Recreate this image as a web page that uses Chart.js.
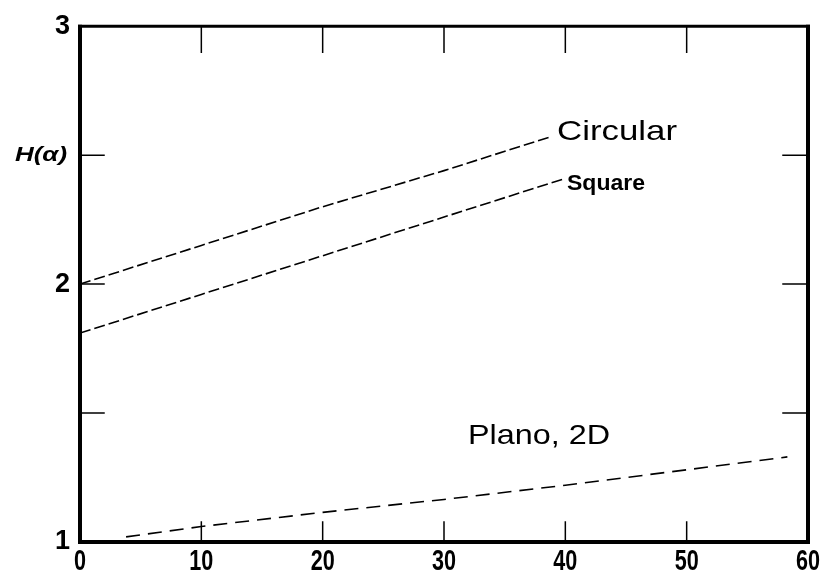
<!DOCTYPE html>
<html lang="en">
<head>
   <meta charset="UTF-8">
   <title>H(alpha) curves</title>
   <script src="https://cdn.jsdelivr.net/npm/chart.js"></script>
   <style>
       body { margin: 0; padding: 0; background: #fff; }
       #wrap { width: 825px; height: 578px; }
   </style>
</head>
<body>
   <div id="wrap"><canvas id="myChart" width="825" height="578"></canvas></div>
   <script>
       // values
       const circularX = [0, 10, 20, 30, 38.7];
       const circularY = [2.0, 2.15, 2.30, 2.44, 2.57];
       const squareX = [0, 10, 20, 30, 40];
       const squareY = [1.81, 1.96, 2.11, 2.26, 2.41];
       const planoX = [3.8, 10, 20, 30, 40, 50, 58.3];
       const planoY = [1.02, 1.06, 1.115, 1.165, 1.22, 1.28, 1.33];
       const xTicks = [0, 10, 20, 30, 40, 50, 60];
       const yTicks = [1, 1.5, 2, 2.5, 3];
       const yLabels = [1, 2, 3];

       const toPts = (xs, ys) => xs.map((x, i) => ({ x: x, y: ys[i] }));

       // frame, inward ticks and text labels
       const framePlugin = {
           id: 'frame',
           afterDraw(chart) {
               const ctx = chart.ctx;
               const a = chart.chartArea;
               const xs = chart.scales.x, ys = chart.scales.y;
               ctx.save();
               ctx.strokeStyle = '#000';
               ctx.lineCap = 'square';
               ctx.lineWidth = 1.5;
               ctx.beginPath();
               xTicks.forEach(v => {
                   const px = xs.getPixelForValue(v);
                   if (v > 0 && v < 60) {
                       ctx.moveTo(px, a.top); ctx.lineTo(px, a.top + 26);
                       ctx.moveTo(px, a.bottom); ctx.lineTo(px, a.bottom - 20);
                   }
               });
               yTicks.forEach(v => {
                   const py = ys.getPixelForValue(v);
                   if (v > 1 && v < 3) {
                       ctx.moveTo(a.left, py); ctx.lineTo(a.left + 24, py);
                       ctx.moveTo(a.right, py); ctx.lineTo(a.right - 25, py);
                   }
               });
               ctx.stroke();
               // box, heavier on left and bottom
               ctx.lineCap = 'butt';
               ctx.lineWidth = 4;
               ctx.beginPath();
               ctx.moveTo(a.left, a.top - 1.5); ctx.lineTo(a.left, a.bottom + 2);
               ctx.moveTo(a.left - 2, a.bottom); ctx.lineTo(a.right + 2, a.bottom);
               ctx.moveTo(a.right, a.bottom + 2); ctx.lineTo(a.right, a.top - 1.5);
               ctx.stroke();
               ctx.lineWidth = 3;
               ctx.beginPath();
               ctx.moveTo(a.left - 2, a.top); ctx.lineTo(a.right + 2, a.top);
               ctx.stroke();

               const label = (text, x, y, font, sx, align) => {
                   ctx.font = font;
                   ctx.fillStyle = '#000';
                   ctx.textBaseline = 'middle';
                   ctx.textAlign = align || 'left';
                   ctx.save();
                   ctx.translate(x, y);
                   ctx.scale(sx, 1);
                   ctx.fillText(text, 0, 0);
                   ctx.restore();
               };
               const fit = (text, font, width) => { ctx.font = font; return width / ctx.measureText(text).width; };
               const reg = '28px "Liberation Sans", Arial, sans-serif';
               const sq = 'bold 22px "Liberation Sans", Arial, sans-serif';
               const hf = 'italic bold 21px "Liberation Sans", Arial, sans-serif';
               label('Circular', 557, ys.getPixelForValue(2.59), reg, fit('Circular', reg, 120));
               label('Square', 567, ys.getPixelForValue(2.39), sq, fit('Square', sq, 78));
               label('Plano, 2D', 468, ys.getPixelForValue(1.41), reg, fit('Plano, 2D', reg, 142));
               label('H(\u03b1)', 15, ys.getPixelForValue(2.5), hf, fit('H(\u03b1)', hf, 52));

               // narrow, tall x tick labels
               const tf = 'bold 30px "Liberation Sans", Arial, sans-serif';
               xTicks.forEach(v => {
                   label(String(v), xs.getPixelForValue(v), a.bottom + 20, tf, 0.72, 'center');
               });
               ctx.restore();
           }
       };

       const dashedSet = (pts, dash) => ({
           data: pts,
           showLine: true,
           borderColor: '#000',
           borderWidth: 1.6,
           borderDash: dash,
           pointRadius: 0,
           fill: false,
           tension: 0
       });

       new Chart(document.getElementById('myChart').getContext('2d'), {
           type: 'scatter',
           data: {
               datasets: [
                   dashedSet(toPts(circularX, circularY), [11, 4]),
                   dashedSet(toPts(squareX, squareY), [11, 4]),
                   dashedSet(toPts(planoX, planoY), [14, 8])
               ]
           },
           options: {
               responsive: false,
               animation: false,
               layout: { padding: { top: 22, right: 17, left: 0, bottom: 0 } },
               plugins: { legend: { display: false }, tooltip: { enabled: false } },
               scales: {
                   x: {
                       type: 'linear',
                       min: 0, max: 60,
                       afterBuildTicks: s => { s.ticks = xTicks.map(v => ({ value: v })); },
                       afterFit: s => { s.height = 36; },
                       border: { display: false },
                       grid: { display: false, drawTicks: false },
                       ticks: { display: false }
                   },
                   y: {
                       type: 'linear',
                       min: 1, max: 3,
                       afterBuildTicks: s => { s.ticks = yTicks.map(v => ({ value: v })); },
                       afterFit: s => { s.width = 80; },
                       border: { display: false },
                       grid: { display: false, drawTicks: false },
                       ticks: {
                           color: '#000',
                           padding: 10,
                           callback: v => yLabels.includes(v) ? String(v) : '',
                           font: { family: '"Liberation Sans", Arial, sans-serif', size: 27, weight: 'bold' }
                       }
                   }
               }
           },
           plugins: [framePlugin]
       });
   </script>
</body>
</html>
